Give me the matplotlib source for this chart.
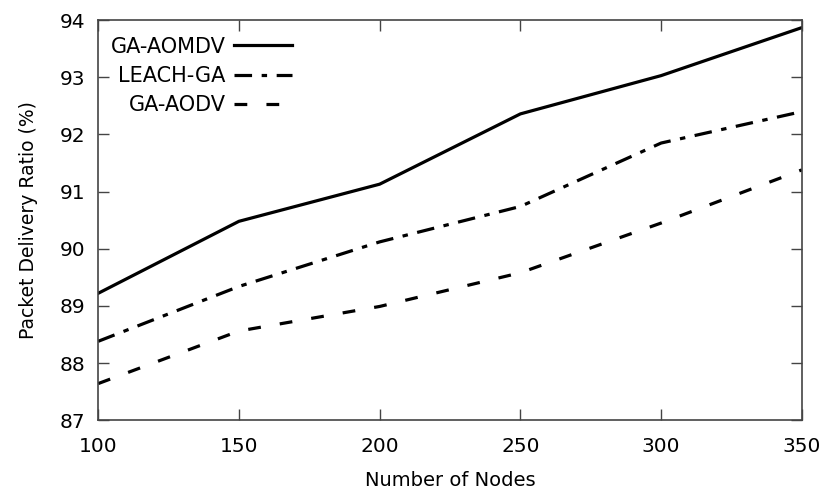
import matplotlib
matplotlib.use("Agg")
import matplotlib.pyplot as plt

nodes = [100, 150, 200, 250, 300, 350]
ga_aomdv = [89.22, 90.48, 91.13, 92.36, 93.03, 93.87]
leach_ga = [88.38, 89.34, 90.12, 90.74, 91.85, 92.40]
ga_aodv = [87.64, 88.56, 88.99, 89.58, 90.45, 91.38]

fig = plt.figure(figsize=(8.25, 4.92), dpi=100)
ax = fig.add_axes([0.119, 0.146, 0.853, 0.813])

ax.plot(nodes, ga_aomdv, color="black", lw=2.3, label="GA-AOMDV")
ax.plot(nodes, leach_ga, color="black", lw=2.3, dashes=(5.5, 3, 1.7, 3), label="LEACH-GA")
ax.plot(nodes, ga_aodv, color="black", lw=2.3, dashes=(4, 6), label="GA-AODV")

ax.set_xlim(100, 350)
ax.set_ylim(87, 94)
ax.set_xticks(nodes)
ax.set_yticks(range(87, 95))
ax.tick_params(direction="in", length=8, width=1, top=True, right=True,
               labelsize=14.5, color="#444444")
ax.tick_params(axis="x", pad=12)
ax.tick_params(axis="y", pad=9)
for s in ax.spines.values():
    s.set_color("#444444")
    s.set_linewidth(1.2)

ax.set_xlabel("Number of Nodes", fontsize=14, labelpad=11)
ax.set_ylabel("Packet Delivery Ratio (%)", fontsize=13.5, labelpad=16)

leg = ax.legend(loc="upper left", frameon=False, markerfirst=False, fontsize=15,
                handlelength=2.8, handletextpad=0.4, labelspacing=0.45,
                borderaxespad=0.2, bbox_to_anchor=(0.0, 0.99))
for t in leg.get_texts():
    t.set_ha("right")
leg._legend_box.align = "right"

fig.savefig("out.png", dpi=100)
